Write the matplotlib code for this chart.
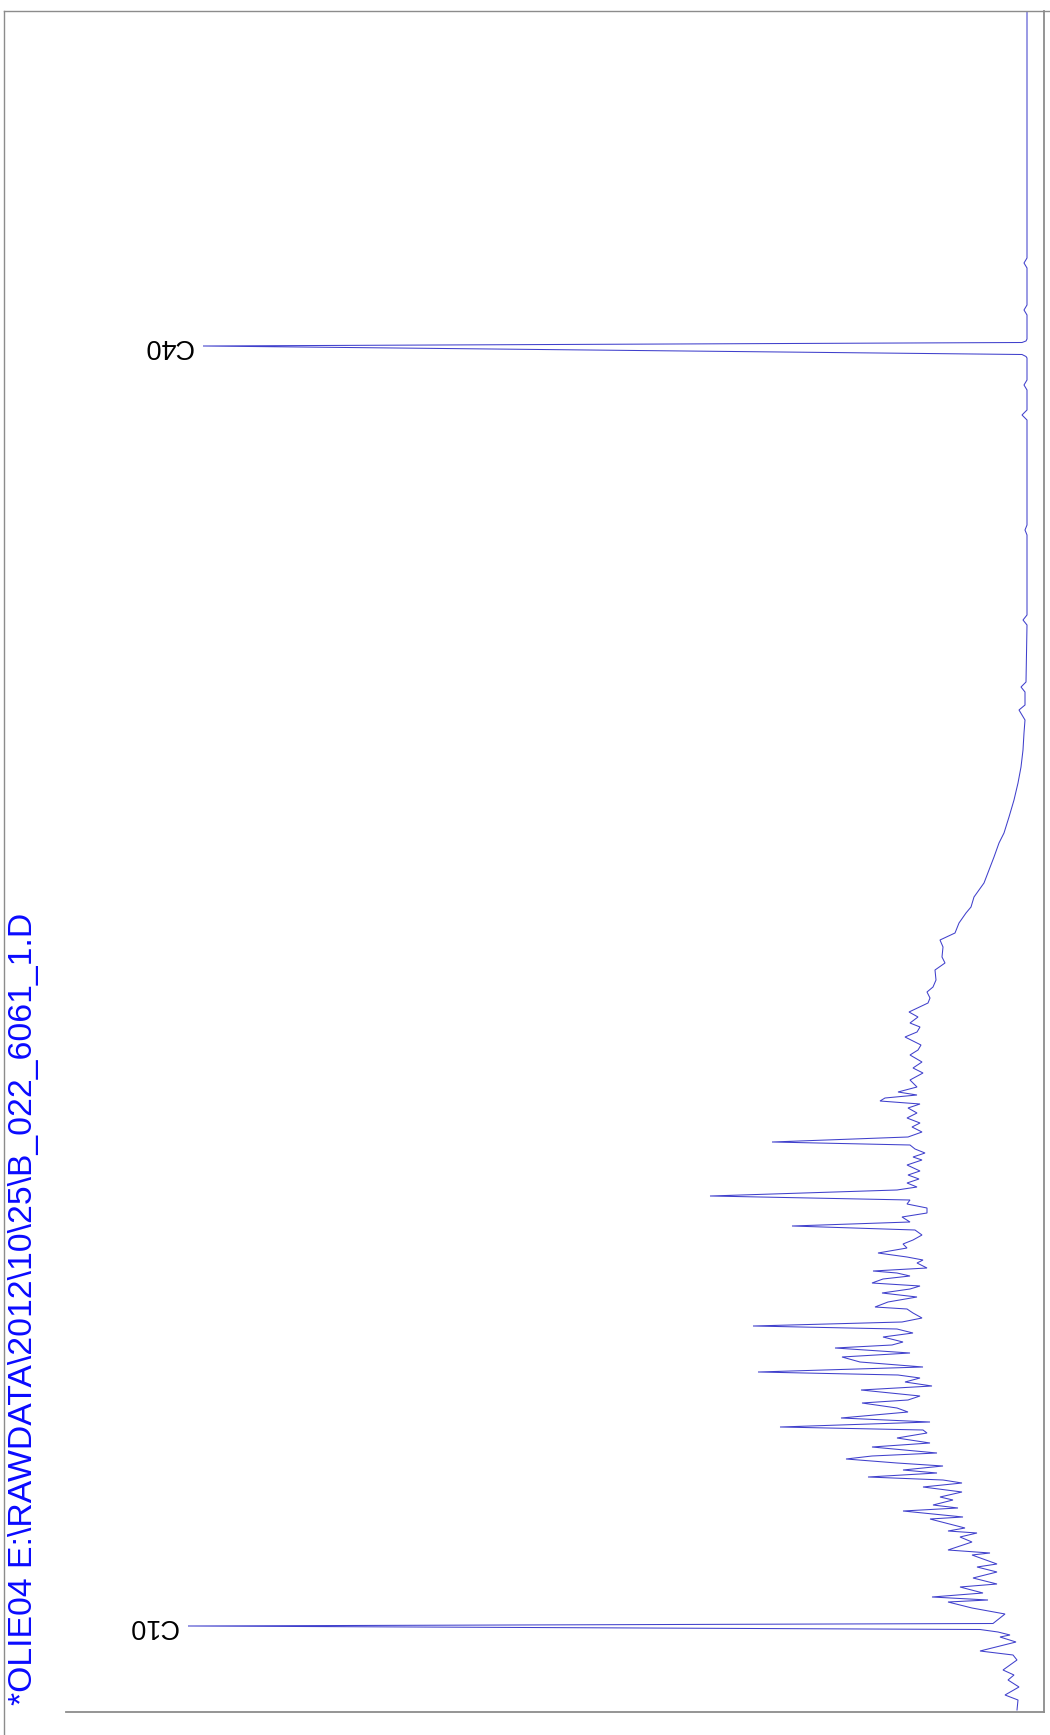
import matplotlib
matplotlib.use("Agg")
import matplotlib.pyplot as plt
from matplotlib.lines import Line2D

# ---- data (retention time in min, detector signal in pA) ----
rt = [0.00, 0.10, 0.15, 0.23, 0.30, 0.35, 0.40, 0.50, 0.55, 0.59,
      0.68, 0.73, 0.75, 0.78, 0.805, 0.84, 0.865, 0.96, 1.02, 1.08,
      1.10, 1.13, 1.17, 1.23, 1.26, 1.32, 1.38, 1.43, 1.46, 1.55,
      1.57, 1.60, 1.68, 1.73, 1.77, 1.79, 1.82, 1.91, 1.93, 1.99,
      2.02, 2.05, 2.10, 2.13, 2.18, 2.23, 2.27, 2.30, 2.33, 2.37,
      2.40, 2.44, 2.47, 2.51, 2.54, 2.57, 2.63, 2.67, 2.72, 2.77,
      2.80, 2.83, 2.88, 2.92, 2.95, 2.98, 3.02, 3.07, 3.10, 3.14,
      3.20, 3.24, 3.28, 3.32, 3.35, 3.38, 3.43, 3.48, 3.53, 3.57,
      3.62, 3.65, 3.68, 3.73, 3.77, 3.81, 3.84, 3.88, 3.92, 3.97,
      4.01, 4.03, 4.08, 4.13, 4.17, 4.21, 4.24, 4.27, 4.31, 4.34,
      4.37, 4.39, 4.42, 4.47, 4.50, 4.53, 4.57, 4.62, 4.66, 4.70,
      4.75, 4.80, 4.84, 4.88, 4.93, 4.97, 5.02, 5.06, 5.10, 5.14,
      5.20, 5.23, 5.27, 5.31, 5.35, 5.39, 5.45, 5.50, 5.53, 5.57,
      5.61, 5.65, 5.68, 5.73, 5.78, 5.83, 5.87, 5.92, 5.97, 6.02,
      6.06, 6.09, 6.12, 6.15, 6.18, 6.23, 6.30, 6.37, 6.42, 6.48,
      6.55, 6.60, 6.65, 6.73, 6.78, 6.83, 6.87, 6.93, 6.98, 7.07,
      7.12, 7.18, 7.23, 7.30, 7.40, 7.47, 7.53, 7.63, 7.70, 7.77,
      7.87, 7.97, 8.03, 8.13, 8.27, 8.40, 8.53, 8.67, 8.77, 8.93,
      9.10, 9.27, 9.43, 9.60, 9.77, 9.90, 10.00, 10.05, 10.18, 10.23,
      10.28, 10.85, 10.90, 10.95, 11.75, 11.80, 11.85, 12.90, 12.95, 13.00,
      13.20, 13.25, 13.30, 13.52, 13.535, 13.555, 13.64, 13.675, 13.69, 13.71,
      13.95, 14.00, 14.05, 14.42, 14.47, 14.52, 16.99]

signal = [1.0, 0.9, 2.2, 0.8, 1.9, 1.3, 2.4, 1.0, 1.4, 4.7,
          1.1, 2.7, 1.7, 2.9, 4.7, 83.9, 3.4, 2.2, 5.5, 7.9,
          3.9, 9.5, 4.4, 6.7, 3.0, 5.4, 3.0, 5.0, 3.0, 5.5,
          3.7, 7.9, 5.5, 6.7, 5.0, 7.9, 6.2, 9.7, 6.4, 12.4,
          6.9, 9.4, 7.4, 8.7, 6.5, 10.4, 6.5, 8.4, 15.9, 9.0,
          12.4, 8.4, 13.0, 18.1, 15.5, 9.0, 15.5, 9.7, 13.0, 10.0,
          10.4, 24.7, 9.7, 18.6, 15.2, 11.9, 13.0, 16.5, 11.9, 10.7,
          16.6, 9.5, 12.2, 10.7, 12.9, 26.9, 10.4, 16.7, 18.5, 11.7,
          19.2, 13.5, 12.4, 14.4, 11.4, 13.0, 27.4, 12.5, 10.5, 11.4,
          12.0, 15.2, 13.9, 11.0, 14.5, 11.7, 10.7, 15.5, 14.4, 11.7,
          13.0, 15.4, 10.0, 11.0, 10.4, 12.0, 14.9, 12.0, 12.4, 11.4,
          10.5, 11.2, 23.5, 11.7, 12.5, 10.0, 10.0, 12.0, 11.7, 31.7,
          13.0, 11.0, 12.0, 10.8, 11.9, 10.7, 12.0, 10.5, 11.4, 10.2,
          11.2, 11.7, 25.5, 11.9, 10.5, 11.5, 10.7, 12.0, 11.0, 11.9,
          10.7, 14.7, 14.2, 11.0, 12.9, 11.0, 11.7, 10.4, 11.4, 10.5,
          11.7, 10.9, 10.6, 12.2, 11.0, 10.7, 11.7, 10.9, 11.8, 9.9,
          9.7, 10.0, 9.4, 9.1, 9.2, 8.2, 8.5, 8.4, 8.7, 7.2,
          6.8, 6.1, 5.6, 5.3, 4.3, 3.8, 3.3, 2.8, 2.3, 1.8,
          1.3, 0.9, 0.6, 0.4, 0.3, 0.2, 0.8, 0.2, 0.2, 0.6,
          0.1, 0.0, 0.4, 0.0, 0.0, 0.2, 0.0, 0.0, 0.5, 0.0,
          0.0, 0.3, 0.0, 0.0, 0.1, 0.5, 82.4, 0.5, 0.1, 0.0,
          0.0, 0.3, 0.0, 0.0, 0.3, 0.0, 0.0]

peak_names = ["C10", "C40"]
peak_rt = [0.84, 13.64]
peak_signal = [83.9, 82.4]

title = r"*OLIE04 E:\RAWDATA\2012\10\25\B_022_6061_1.D"

# ---- figure ----
W, H = 1050, 1735
fig = plt.figure(figsize=(W / 100, H / 100), dpi=100)
fig.patch.set_facecolor("white")

ax = fig.add_axes([66 / W, (H - 1712) / H, (1044 - 66) / W, (1712 - 11) / H])
ax.plot(signal, rt, color="#4040cc", lw=0.75, solid_joinstyle="miter")
ax.set_xlim(96.1, -1.7)
ax.set_ylim(-0.02, 16.99)
ax.set_xticks([])
ax.set_yticks([])
for side in ("top", "left"):
    ax.spines[side].set_visible(False)
for side in ("right", "bottom"):
    ax.spines[side].set_color("#8c8c8c")
    ax.spines[side].set_linewidth(1.3)

for name, t, s in zip(peak_names, peak_rt, peak_signal):
    ax.annotate(name, xy=(s, t), xytext=(-35 * 0.72, 0), textcoords="offset points",
                ha="center", va="center", rotation=180, fontsize=19.5,
                family=["Liberation Sans", "DejaVu Sans"], color="black")

# outer page frame (left and top)
fig.add_artist(Line2D([3.5 / W, 3.5 / W], [0, (H - 11) / H], transform=fig.transFigure,
                      color="#8c8c8c", lw=1.0))
fig.add_artist(Line2D([3.5 / W, 1], [(H - 11) / H, (H - 11) / H], transform=fig.transFigure,
                      color="#8c8c8c", lw=1.0))

fig.text(24 / W, (H - 1705) / H, title, rotation=90, ha="center", va="bottom",
         fontsize=24.3, color="#0a0aff", family=["Liberation Sans", "DejaVu Sans"])

fig.savefig("out.png", dpi=100)
